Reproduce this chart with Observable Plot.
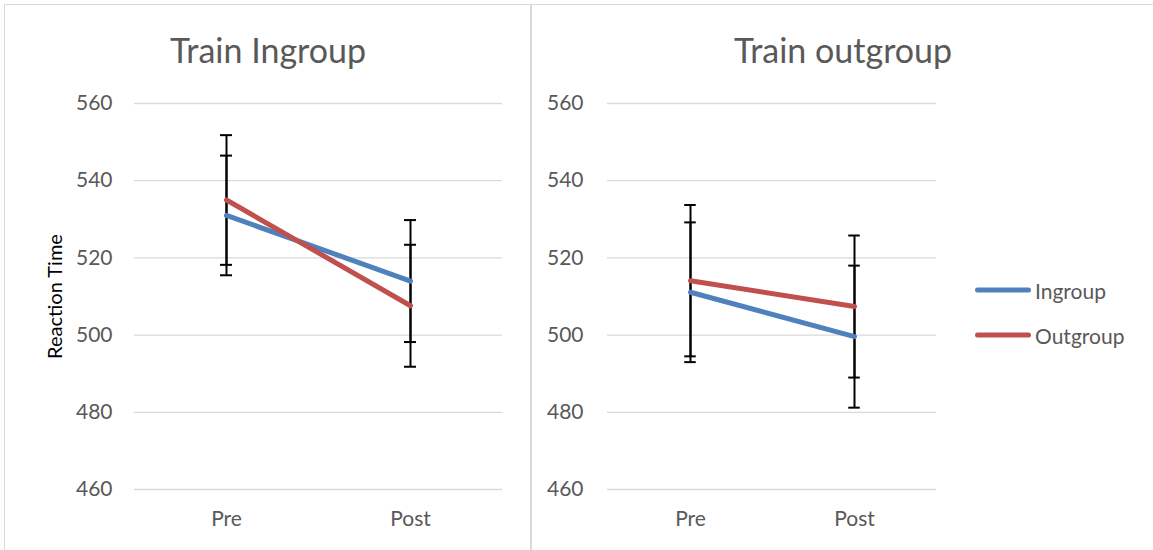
<!DOCTYPE html>
<html>
<head>
<meta charset="utf-8">
<script src="https://cdn.jsdelivr.net/npm/d3@7"></script>
<script src="https://cdn.jsdelivr.net/npm/@observablehq/plot@0.6"></script>
<style>
  body { margin: 0; background: #fff; }
  #chart { position: relative; width: 1153px; height: 550px; overflow: hidden; font-family: Lato, "Open Sans", sans-serif; color: #595959; }
  #chart svg { position: absolute; top: 0; }
  .frame { position: absolute; left: 4px; top: 4px; width: 1200px; height: 600px; border: 1.5px solid #d9d9d9; box-sizing: border-box; }
  .divider { position: absolute; left: 530px; top: 4px; width: 1.5px; height: 560px; background: #d9d9d9; }
  .title { position: absolute; top: 30px; transform: translateX(-50%); font-size: 34px; white-space: nowrap; line-height: 40px; }
  .legend { position: absolute; left: 975px; font-size: 21px; display: flex; align-items: center; transform: translateY(-50%); }
  .legend .swatch { width: 56px; height: 5px; border-radius: 3px; margin-right: 4px; }
</style>
</head>
<body>
<div id="chart"></div>
<script>
// Categories and series
const phases = ["Pre", "Post"];
const groups = ["Ingroup", "Outgroup"];
const groupColors = ["#4f81bd", "#c0504d"];
const panelTitles = ["Train Ingroup", "Train outgroup"];
const yTicks = [460, 480, 500, 520, 540, 560];

// Mean reaction time (Pre, Post) and error half-widths, by panel and group
const trainInIngroupMean = [531.0, 514.0];
const trainInOutgroupMean = [535.0, 507.6];
const trainInIngroupErr = [15.5, 15.8];
const trainInOutgroupErr = [16.8, 15.8];

const trainOutIngroupMean = [511.1, 499.6];
const trainOutOutgroupMean = [514.1, 507.4];
const trainOutIngroupErr = [18.1, 18.4];
const trainOutOutgroupErr = [19.6, 18.4];

function rowsFor(means, errs) {
  const rows = [];
  groups.forEach((g, gi) => {
    phases.forEach((p, pi) => {
      rows.push({ group: g, phase: p, rt: means[gi][pi], lo: means[gi][pi] - errs[gi][pi], hi: means[gi][pi] + errs[gi][pi] });
    });
  });
  return rows;
}

const panels = [
  { title: panelTitles[0], rows: rowsFor([trainInIngroupMean, trainInOutgroupMean], [trainInIngroupErr, trainInOutgroupErr]),
    left: 0, width: 531, marginLeft: 134, marginRight: 29, tickPadding: 22, yLabel: "Reaction Time", titleX: 268 },
  { title: panelTitles[1], rows: rowsFor([trainOutIngroupMean, trainOutOutgroupMean], [trainOutIngroupErr, trainOutOutgroupErr]),
    left: 531, width: 622, marginLeft: 76, marginRight: 217, tickPadding: 24, yLabel: null, titleX: 843 }
];

const chart = document.getElementById("chart");
chart.insertAdjacentHTML("beforeend", '<div class="frame"></div><div class="divider"></div>');

const height = 550, marginTop = 103, marginBottom = 61;
const capWidth = 12;

for (const pn of panels) {
  const bandwidth = (pn.width - pn.marginLeft - pn.marginRight) / phases.length;
  const capInset = (bandwidth - capWidth) / 2;
  const marks = [
    Plot.ruleY(yTicks, { stroke: "#d9d9d9", strokeWidth: 1.3 }),
    Plot.axisY({ ticks: yTicks, tickSize: 0, tickPadding: pn.tickPadding, label: null }),
    Plot.axisX({ tickSize: 0, tickPadding: 22, label: null }),
    Plot.ruleX(pn.rows, { x: "phase", y1: "lo", y2: "hi", stroke: "#000", strokeWidth: 2 }),
    Plot.tickY(pn.rows, { x: "phase", y: "lo", stroke: "#000", strokeWidth: 2, insetLeft: capInset, insetRight: capInset }),
    Plot.tickY(pn.rows, { x: "phase", y: "hi", stroke: "#000", strokeWidth: 2, insetLeft: capInset, insetRight: capInset }),
    Plot.line(pn.rows, { x: "phase", y: "rt", z: "group", stroke: "group", strokeWidth: 5, strokeLinecap: "round" })
  ];
  if (pn.yLabel) {
    marks.push(Plot.text([pn.yLabel], { frameAnchor: "left", textAnchor: "middle", dx: -79, rotate: -90, fontSize: 20, fill: "#000" }));
  }
  const svg = Plot.plot({
    width: pn.width,
    height,
    marginTop, marginBottom,
    marginLeft: pn.marginLeft, marginRight: pn.marginRight,
    style: { fontFamily: "Lato, 'Open Sans', sans-serif", fontSize: "21px", color: "#595959", background: "transparent" },
    x: { type: "band", domain: phases, padding: 0 },
    y: { domain: [460, 560] },
    color: { domain: groups, range: groupColors },
    marks
  });
  svg.style.left = pn.left + "px";
  chart.appendChild(svg);
  const t = document.createElement("div");
  t.className = "title";
  t.style.left = pn.titleX + "px";
  t.textContent = pn.title;
  chart.appendChild(t);
}

// Legend
const legendY = [290, 335];
groups.forEach((g, i) => {
  const item = document.createElement("div");
  item.className = "legend";
  item.style.top = legendY[i] + "px";
  item.innerHTML = `<span class="swatch" style="background:${groupColors[i]}"></span><span>${g}</span>`;
  chart.appendChild(item);
});
</script>
</body>
</html>
